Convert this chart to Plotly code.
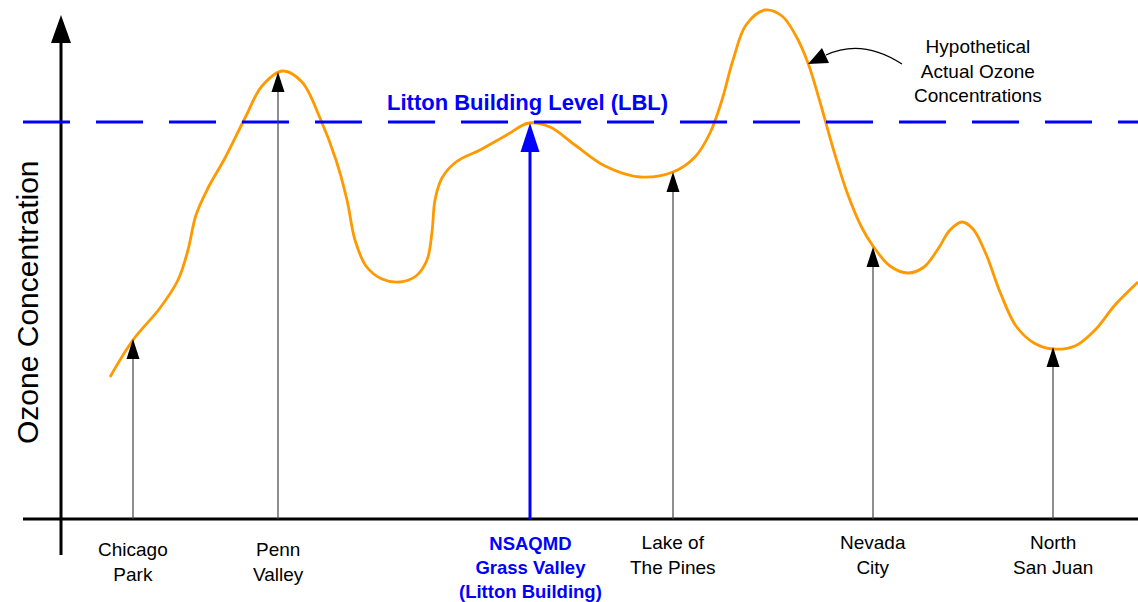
import plotly.graph_objects as go

# ---------------- data ----------------
# baseline of the concentration axis sits at pixel row 519; values are "height above baseline"
BASE_PX = 519

curve_x = [110, 133, 160, 178, 188, 196, 208, 225, 245, 262, 283, 302, 320, 336, 347, 355, 366,
           382, 400, 416, 427, 432, 435, 442, 456, 480, 505, 529, 550, 575, 605, 640, 673, 695,
           710, 722, 733, 746, 765, 782, 796, 808, 820, 833, 848, 862, 873, 890, 908, 924, 938,
           950, 962, 973, 986, 1000, 1016, 1034, 1053, 1075, 1095, 1115, 1138]
curve_py = [377, 340, 308, 280, 250, 215, 188, 158, 118, 86, 71, 82, 118, 160, 200, 240, 266,
            279, 282, 276, 260, 232, 200, 178, 162, 150, 136, 123, 127, 145, 166, 177, 172, 157,
            133, 100, 60, 25, 10, 16, 36, 63, 102, 148, 195, 228, 246, 266, 273, 267, 249,
            230, 222, 229, 254, 292, 326, 343, 349, 346, 330, 305, 282]
curve_y = [BASE_PX - p for p in curve_py]

stations = ["Chicago<br>Park", "Penn<br>Valley",
            "<b>NSAQMD<br>Grass Valley<br>(Litton Building)</b>",
            "Lake of<br>The Pines", "Nevada<br>City", "North<br>San Juan"]
station_x = [133, 278, 530, 673, 873, 1053]
station_val = [BASE_PX - p for p in [339, 72, 123, 172, 247, 347]]
label_center_py = [561.5, 561.5, 567, 554.5, 554.5, 554.5]
lbl_level = BASE_PX - 122

ORANGE = "#FF9900"
BLUE = "#0000FF"
FONT = "Arial, Liberation Sans, sans-serif"


def py(p):
    return BASE_PX - p


fig = go.Figure()

fig.add_trace(go.Scatter(x=curve_x, y=curve_y, mode="lines",
                         line=dict(color=ORANGE, width=2.8, shape="spline", smoothing=1.0),
                         hoverinfo="skip"))

shapes = []
# axes
shapes.append(dict(type="line", x0=23, x1=1138, y0=0, y1=0, line=dict(color="black", width=3)))
shapes.append(dict(type="line", x0=61, x1=61, y0=py(555), y1=py(40), line=dict(color="black", width=3)))
shapes.append(dict(type="path", path=f"M 51,{py(43)} L 61,{py(15)} L 71,{py(43)} Z",
                   fillcolor="black", line=dict(color="black", width=0)))
# LBL dashed line
shapes.append(dict(type="line", x0=23, x1=1138, y0=lbl_level, y1=lbl_level,
                   line=dict(color=BLUE, width=3, dash="47px,26px")))

# station arrows
for i, (sx, sv) in enumerate(zip(station_x, station_val)):
    if i == 2:
        col, lw, hw, hh = BLUE, 3, 9.5, 29
    else:
        col, lw, hw, hh = "#444444", 1.2, 6.5, 20
    shapes.append(dict(type="line", x0=sx, x1=sx, y0=0, y1=sv - hh + 2, line=dict(color=col, width=lw)))
    shapes.append(dict(type="path",
                       path=f"M {sx - hw},{sv - hh} L {sx},{sv} L {sx + hw},{sv - hh} Z",
                       fillcolor=col if i == 2 else "black", line=dict(width=0)))

# curved pointer to the curve
shapes.append(dict(type="path", path=f"M 902,{py(64)} Q 862,{py(38)} 826,{py(55)}",
                   line=dict(color="black", width=1.2)))
shapes.append(dict(type="path", path=f"M 808,{py(64)} L 822,{py(48)} L 829,{py(63)} Z",
                   fillcolor="black", line=dict(width=0)))

annotations = []
for i, (name, sx, cy) in enumerate(zip(stations, station_x, label_center_py)):
    annotations.append(dict(x=sx, y=py(cy), text=name, showarrow=False,
                            xanchor="center", yanchor="middle",
                            font=dict(family=FONT, size=19 if i != 2 else 18.5,
                                      color=BLUE if i == 2 else "black")))

annotations.append(dict(x=527.5, y=py(102), text="<b>Litton Building Level (LBL)</b>",
                        showarrow=False, xanchor="center", yanchor="middle",
                        font=dict(family=FONT, size=22, color=BLUE)))
annotations.append(dict(x=978, y=py(71), text="Hypothetical<br>Actual Ozone<br>Concentrations",
                        showarrow=False, xanchor="center", yanchor="middle",
                        font=dict(family=FONT, size=19, color="black")))
annotations.append(dict(x=27, y=py(302), text="Ozone Concentration", textangle=-90,
                        showarrow=False, xanchor="center", yanchor="middle",
                        font=dict(family=FONT, size=30, color="black")))

fig.update_layout(
    width=1138, height=602,
    margin=dict(l=0, r=0, t=0, b=0),
    paper_bgcolor="white", plot_bgcolor="white",
    showlegend=False,
    shapes=shapes, annotations=annotations,
    xaxis=dict(range=[0, 1138], visible=False, fixedrange=True),
    yaxis=dict(range=[BASE_PX - 602, BASE_PX], visible=False, fixedrange=True),
)

fig.write_html("out.html", config=dict(displayModeBar=False),
               post_script="document.body.style.margin='0';document.body.style.overflow='hidden';")
